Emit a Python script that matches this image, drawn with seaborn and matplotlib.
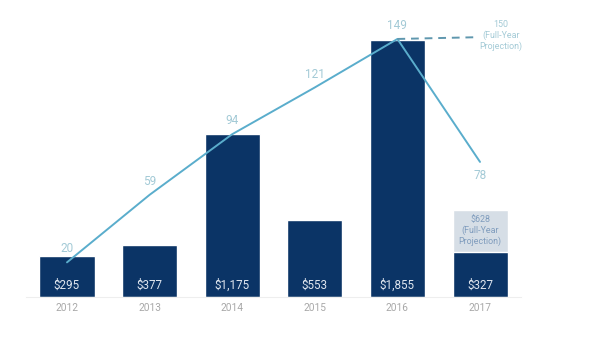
import matplotlib
matplotlib.use("Agg")
import matplotlib.pyplot as plt
import seaborn as sns
import numpy as np
import pandas as pd

years = ["2012", "2013", "2014", "2015", "2016", "2017"]
funding = [295, 377, 1175, 553, 1855, 327]
funding_labels = ["$295", "$377", "$1,175", "$553", "$1,855", "$327"]
deals = [20, 59, 94, 121, 149, 78]
proj_funding = 628
proj_funding_label = "$628\n(Full-Year\nProjection)"
proj_deals = 150
proj_deals_label = "150\n(Full-Year\nProjection)"

sns.set_theme(style="white")
plt.rcParams['font.family'] = ['Roboto', 'DejaVu Sans']

fig = plt.figure(figsize=(5.92, 3.42), dpi=100)
ax = fig.add_axes([0.0434, 0.1316, 0.8372, 0.8684])

BAR = "#0b3466"
LINE = "#5aadcc"
LBL = "#a3cad6"

df = pd.DataFrame({"year": years, "funding": funding})
sns.barplot(x=["2017"], y=[proj_funding], order=years, color="#d6dee6",
            saturation=1, width=0.666, ax=ax)
sns.barplot(data=df, x="year", y="funding", order=years, color=BAR,
            saturation=1, width=0.666, ax=ax)
ax.set_xlim(-0.5, 5.5)
ax.set_ylim(0, 2144)
for i, t in enumerate(funding_labels):
    ax.text(i, 35, t, ha="center", va="bottom", color="#dfe6ef", fontsize=8.4)
ax.text(5, (funding[5] + proj_funding) / 2, proj_funding_label, ha="center",
        va="center", color="#7f9cbd", fontsize=6.4, linespacing=1.2)

ax.set_xlabel("")
ax.set_ylabel("")
ax.set_yticks([])
ax.tick_params(axis="x", length=0, labelsize=7.3, labelcolor="#a8a8a8", pad=4)
for s in ["top", "right", "left"]:
    ax.spines[s].set_visible(False)
ax.spines["bottom"].set_color("#eeeeee")
ax.spines["bottom"].set_linewidth(0.8)

ax2 = ax.twinx()
xpos = np.arange(len(years))
sns.lineplot(x=xpos, y=deals, color=LINE, linewidth=1.4, ax=ax2)
ax2.plot([4, 4.95], [deals[4], proj_deals], color="#5f97ae", linewidth=1.4,
         linestyle=(0, (4, 3)))
ax2.set_ylim(0, 171.5)
ax2.set_xlim(-0.5, 5.5)
ax2.set_yticks([])
for s in ["top", "right", "left", "bottom"]:
    ax2.spines[s].set_visible(False)
for i, v in enumerate(deals):
    if i == 5:
        ax2.annotate(str(v), (i, v), xytext=(0, -5), textcoords="offset points",
                     ha="center", va="top", color=LBL, fontsize=8.5)
    else:
        ax2.annotate(str(v), (i, v), xytext=(0, 5), textcoords="offset points",
                     ha="center", va="bottom", color=LBL, fontsize=8.5)
ax2.annotate(proj_deals_label, (5.25, proj_deals), xytext=(0, 1),
             textcoords="offset points", ha="center", va="center",
             color=LBL, fontsize=6.4, linespacing=1.2)

fig.savefig("out.png", dpi=100)
